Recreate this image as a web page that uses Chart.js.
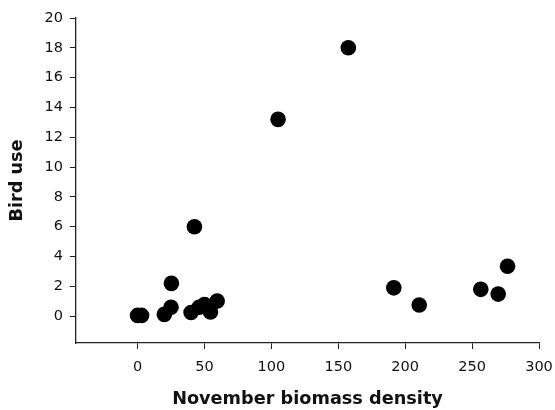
<!DOCTYPE html>
<html>
<head>
<meta charset="utf-8">
<script src="https://cdn.jsdelivr.net/npm/chart.js@4"></script>
<style>
html,body{margin:0;padding:0;background:#fff;}
#wrap{width:555px;height:410px;position:relative;}
</style>
</head>
<body>
<div id="wrap"><canvas id="c"></canvas></div>
<script>
const biomass = [0, 3, 20, 25, 25.3, 40, 42.5, 46, 50, 54.5, 59.5, 105, 157.5, 191.5, 210.5, 256.5, 269.5, 276.5];
const birdUse = [0.05, 0.05, 0.12, 0.6, 2.2, 0.25, 6.0, 0.6, 0.78, 0.28, 1.02, 13.2, 18.0, 1.9, 0.75, 1.8, 1.48, 3.35];
const xTicks = [0, 50, 100, 150, 200, 250, 300];
const yTicks = [0, 2, 4, 6, 8, 10, 12, 14, 16, 18, 20];
const xTitle = 'November biomass density';
const yTitle = 'Bird use';

const points = biomass.map((x, i) => ({x: x, y: birdUse[i]}));
const FONT = '"DejaVu Sans", "Liberation Sans", Arial, sans-serif';

new Chart(document.getElementById('c'), {
  type: 'scatter',
  data: {
    datasets: [{
      data: points,
      backgroundColor: '#000',
      borderColor: '#000',
      borderWidth: 0,
      pointRadius: 7.8,
      pointHoverRadius: 7.8
    }]
  },
  options: {
    responsive: true,
    maintainAspectRatio: false,
    animation: false,
    events: [],
    layout: {padding: {top: 18, right: 16, left: 0, bottom: 0}},
    plugins: {legend: {display: false}, tooltip: {enabled: false}},
    scales: {
      x: {
        type: 'linear',
        min: -46,
        max: 300,
        afterBuildTicks: s => { s.ticks = xTicks.map(v => ({value: v})); },
        afterFit: s => { s.height = 67; s.paddingRight = 0; s.paddingLeft = 0; },
        grid: {drawOnChartArea: false, drawTicks: true, tickLength: 6, color: '#222', tickWidth: 1},
        border: {display: true, color: '#222', width: 1.3},
        ticks: {color: '#111', font: {family: FONT, size: 14.5}, padding: 10, maxRotation: 0, autoSkip: false},
        title: {display: true, text: xTitle, color: '#111', font: {family: FONT, size: 17.7, weight: 'bold'}, padding: {top: 0, bottom: 0}}
      },
      y: {
        type: 'linear',
        min: -1.8,
        max: 20,
        afterBuildTicks: s => { s.ticks = yTicks.map(v => ({value: v})); },
        afterFit: s => { s.width = 76; s.paddingTop = 0; s.paddingBottom = 0; },
        grid: {drawOnChartArea: false, drawTicks: true, tickLength: 6, color: '#222', tickWidth: 1},
        border: {display: true, color: '#222', width: 1.3},
        ticks: {color: '#111', font: {family: FONT, size: 14.5}, padding: 7, autoSkip: false},
        title: {display: true, text: yTitle, color: '#111', font: {family: FONT, size: 17.7, weight: 'bold'}, padding: {top: 7, bottom: 0}}
      }
    }
  }
});
</script>
</body>
</html>
